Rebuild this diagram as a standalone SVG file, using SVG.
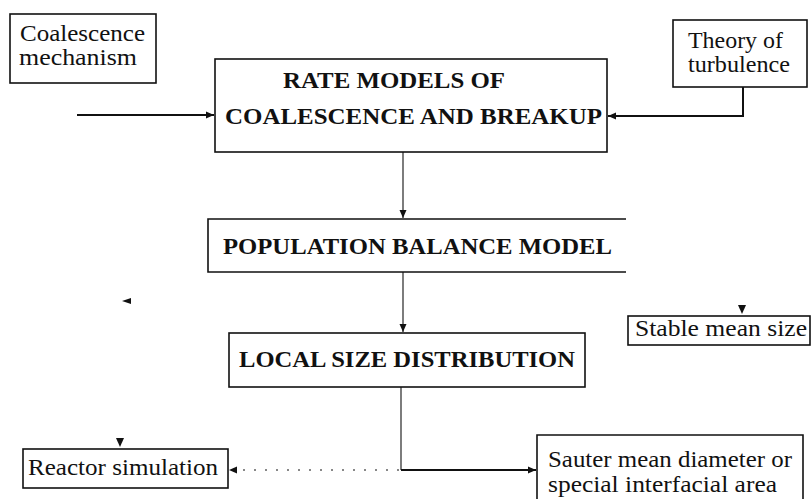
<svg xmlns="http://www.w3.org/2000/svg" width="811" height="499" viewBox="0 0 811 499">
<style>
.box{fill:none;stroke:#111;stroke-width:1.6}
.t{font-family:"Liberation Serif","Times New Roman",serif;font-size:23px;fill:#111}
.h{font-family:"Liberation Serif","Times New Roman",serif;font-size:24px;font-weight:bold;fill:#111}
.c{fill:none;stroke:#111}
.thin{stroke-width:1.1}
.thick{stroke-width:2}
.dot{stroke-width:1.2;stroke-dasharray:2 9}
.ah{fill:#111}
</style>
<defs>
<marker id="arr" markerUnits="userSpaceOnUse" markerWidth="9" markerHeight="8" refX="8" refY="4" orient="auto">
<path d="M0,0.5 L8,4 L0,7.5 z" fill="#111"/>
</marker>
</defs>
<rect width="811" height="499" fill="#fff"/>

<g id="coalescence-mechanism">
<rect class="box" x="10" y="14" width="146" height="69"/>
<text class="t" x="20" y="41" textLength="125" lengthAdjust="spacingAndGlyphs">Coalescence</text>
<text class="t" x="19" y="65" textLength="118" lengthAdjust="spacingAndGlyphs">mechanism</text>
</g>

<g id="rate-models">
<rect class="box" x="215" y="59" width="392" height="93"/>
<text class="h" x="283" y="88" textLength="222" lengthAdjust="spacingAndGlyphs">RATE MODELS OF</text>
<text class="h" x="225" y="124" textLength="377" lengthAdjust="spacingAndGlyphs">COALESCENCE AND BREAKUP</text>
</g>

<g id="theory-of-turbulence">
<rect class="box" x="673" y="20" width="134" height="67"/>
<text class="t" x="688" y="48" textLength="95" lengthAdjust="spacingAndGlyphs">Theory of</text>
<text class="t" x="688" y="72" textLength="102" lengthAdjust="spacingAndGlyphs">turbulence</text>
</g>

<g id="population-balance-model">
<path class="box" d="M626,219 H208 V272 H626"/>
<text class="h" x="223" y="254" textLength="389" lengthAdjust="spacingAndGlyphs">POPULATION BALANCE MODEL</text>
</g>

<g id="stable-mean-size">
<rect class="box" x="628" y="316" width="182" height="29"/>
<text class="t" x="635" y="336" textLength="172" lengthAdjust="spacingAndGlyphs">Stable mean size</text>
</g>

<g id="local-size-distribution">
<rect class="box" x="229" y="333" width="356" height="54"/>
<text class="h" x="239" y="367" textLength="336" lengthAdjust="spacingAndGlyphs">LOCAL SIZE DISTRIBUTION</text>
</g>

<g id="reactor-simulation">
<rect class="box" x="23" y="449" width="205" height="39"/>
<text class="t" x="28" y="475" textLength="190" lengthAdjust="spacingAndGlyphs">Reactor simulation</text>
</g>

<g id="sauter-mean-diameter">
<path class="box" d="M537,499 V435 H803 V499"/>
<text class="t" x="548" y="467" textLength="244" lengthAdjust="spacingAndGlyphs">Sauter mean diameter or</text>
<text class="t" x="548" y="492" textLength="229" lengthAdjust="spacingAndGlyphs">special interfacial area</text>
</g>

<g id="connectors">
<path class="c thick" d="M77,115 H214" marker-end="url(#arr)"/>
<path class="c thick" d="M743,87 V116 H608" marker-end="url(#arr)"/>
<path class="c thin" d="M403,152 V218" marker-end="url(#arr)"/>
<path class="c thin" d="M403,272 V332" marker-end="url(#arr)"/>
<path class="c thin" d="M401,387 V470"/>
<path class="c thick" d="M401,470 H536" marker-end="url(#arr)"/>
<path class="c dot" d="M399,470 H238"/>
<path class="ah" d="M229,470 L237,466.5 L237,473.5 z"/>
<path class="ah" d="M116,438 L124,438 L120,447 z"/>
<path class="ah" d="M738,305 L746,305 L742,314 z"/>
<path class="ah" d="M122,301 L131,298 L131,304 z"/>
</g>
</svg>
